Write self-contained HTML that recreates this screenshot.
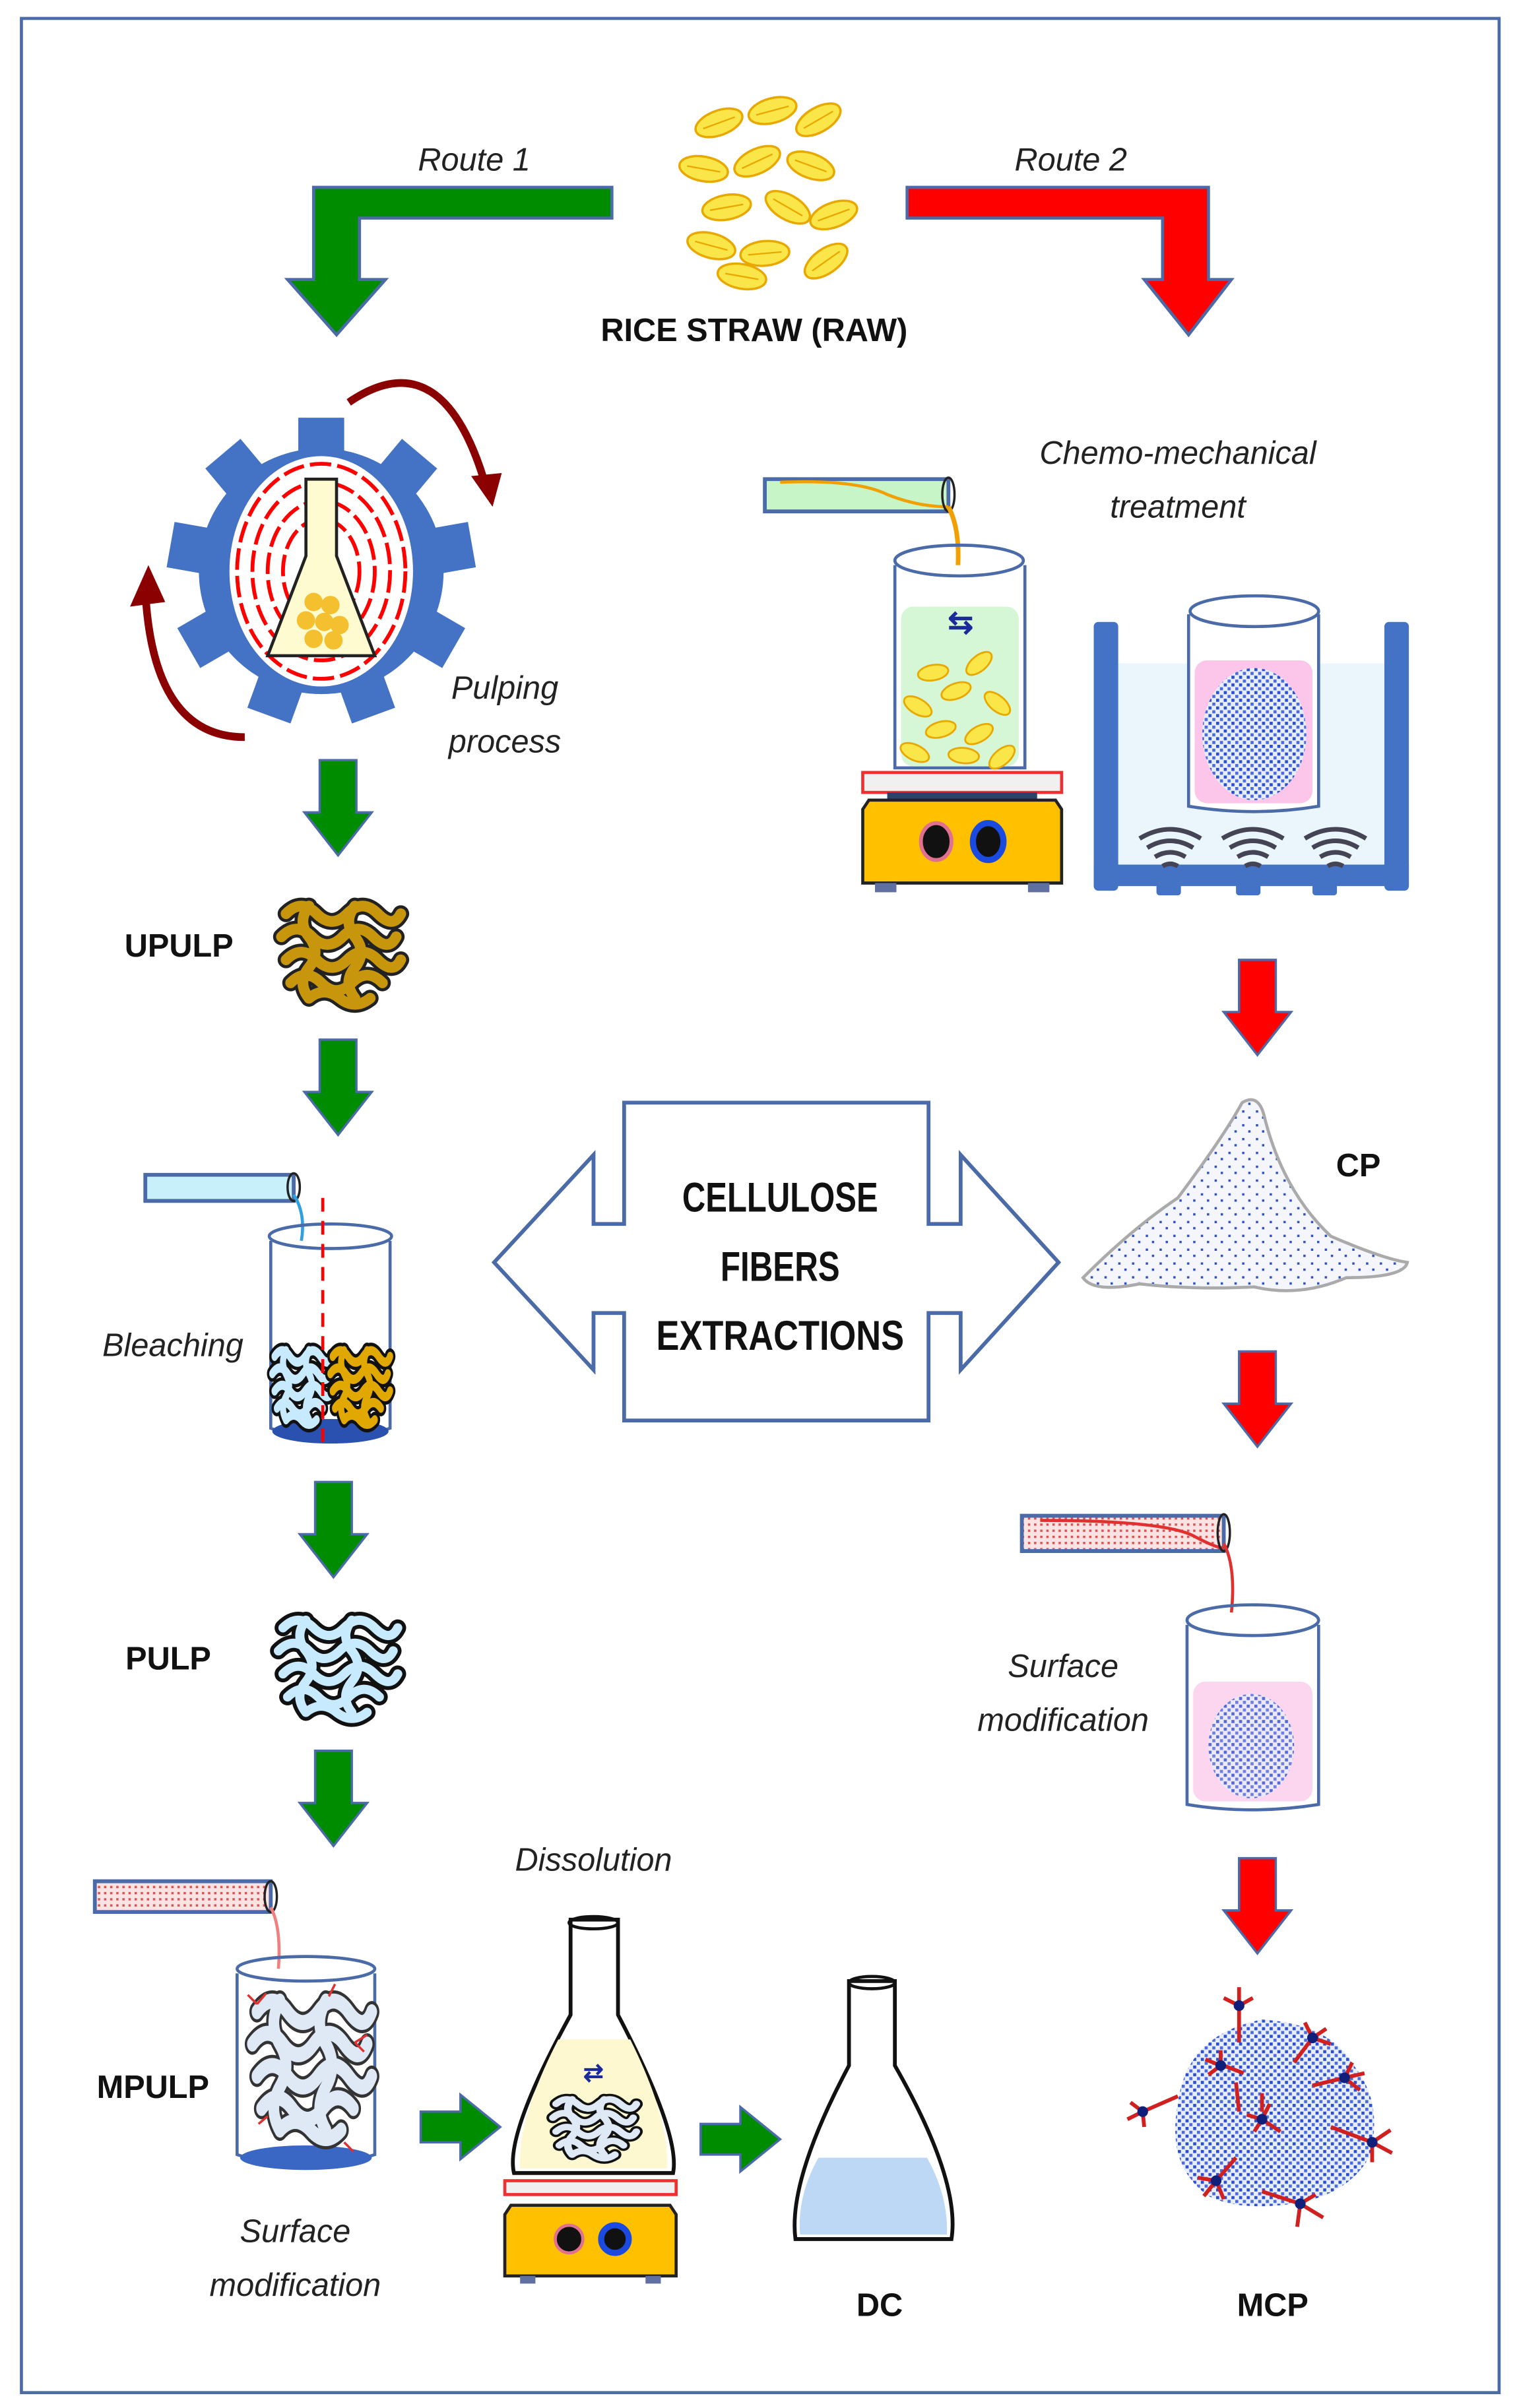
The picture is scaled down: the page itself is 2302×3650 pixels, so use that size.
<!DOCTYPE html>
<html><head><meta charset="utf-8"><style>
html,body{margin:0;padding:0;background:#fff}
svg{display:block}
text{font-family:"Liberation Sans",sans-serif}
.it{font-style:italic;font-size:21px;fill:#222}
.bd{font-weight:bold;font-size:21px;fill:#111}
</style></head><body>
<svg width="2302" height="3650" viewBox="0 0 993 1568" preserveAspectRatio="none" xmlns="http://www.w3.org/2000/svg">
<defs>
<pattern id="dots" width="5" height="5" patternUnits="userSpaceOnUse"><rect width="5" height="5" fill="#e8edfb"/><rect x="0" y="0" width="2" height="2" fill="#2a4fd0"/><rect x="2.5" y="2.5" width="2" height="2" fill="#4a6ae0"/></pattern>
<pattern id="rdots" width="4" height="4" patternUnits="userSpaceOnUse"><rect width="4" height="4" fill="#fbe3e3"/><rect width="1.5" height="1.5" fill="#e05050"/></pattern>
<pattern id="sdots" width="9" height="9" patternUnits="userSpaceOnUse"><rect width="9" height="9" fill="#f4f6fc"/><rect x="2" y="3" width="1.5" height="1.5" fill="#3050c0"/><rect x="6" y="7" width="1.5" height="1.5" fill="#3050c0"/></pattern>
<g id="grain"><ellipse cx="0" cy="0" rx="16" ry="8" fill="#fbe64a" stroke="#e8a800" stroke-width="1.5"/><line x1="-11" y1="0" x2="11" y2="0" stroke="#e8a800" stroke-width="1"/></g>
<g id="sgrain"><ellipse cx="0" cy="0" rx="10" ry="5" fill="#fbe64a" stroke="#e8a800" stroke-width="1.2"/></g>
<path id="gdown" d="M-12,0 H12 V34 H22 L0,62 L-22,34 H-12 Z"/>
<path id="gright" d="M0,-10 V10 H26 V21 L52,0 L26,-21 V-10 Z"/>
<g id="clump" fill="none" stroke-linecap="round">
<path d="M-35,-25 q10,-10 20,0 t20,0 t20,0 t15,0"/><path d="M-38,-10 q10,-10 20,0 t20,0 t20,0 t15,0"/><path d="M-35,5 q10,-10 20,0 t20,0 t20,0 t15,0"/><path d="M-32,20 q10,-10 20,0 t20,0 t20,0"/><path d="M-20,30 q10,-8 20,0 t20,0"/>
<path d="M-20,-30 q-8,10 0,20 t0,20 t0,20"/><path d="M10,-30 q-8,10 0,20 t0,20 t0,20"/>
</g>
</defs>

<rect x="14" y="12" width="966" height="1546" fill="#fff" stroke="#4a6aa8" stroke-width="2"/>

<!-- Route arrows -->
<path d="M400,122 V142 H235 V182 H252 L220,218 L188,182 H205 V122 Z" fill="#008c00" stroke="#4a6aa8" stroke-width="2"/>
<path d="M593,122 H790 V182 H805 L777,218 L748,182 H760 V142 H593 Z" fill="#f00" stroke="#4a6aa8" stroke-width="2"/>
<text x="310" y="111" class="it" text-anchor="middle">Route 1</text>
<text x="700" y="111" class="it" text-anchor="middle">Route 2</text>

<!-- rice grains -->
<g transform="translate(470,80) rotate(-20)"><use href="#grain"/></g>
<g transform="translate(505,72) rotate(-15)"><use href="#grain"/></g>
<g transform="translate(535,78) rotate(-30)"><use href="#grain"/></g>
<g transform="translate(460,110) rotate(10)"><use href="#grain"/></g>
<g transform="translate(495,105) rotate(-25)"><use href="#grain"/></g>
<g transform="translate(530,108) rotate(20)"><use href="#grain"/></g>
<g transform="translate(475,135) rotate(-10)"><use href="#grain"/></g>
<g transform="translate(515,135) rotate(30)"><use href="#grain"/></g>
<g transform="translate(545,140) rotate(-20)"><use href="#grain"/></g>
<g transform="translate(465,160) rotate(15)"><use href="#grain"/></g>
<g transform="translate(500,165) rotate(-5)"><use href="#grain"/></g>
<g transform="translate(540,170) rotate(-35)"><use href="#grain"/></g>
<g transform="translate(485,180) rotate(10)"><use href="#grain"/></g>
<text x="493" y="222" class="bd" text-anchor="middle">RICE STRAW (RAW)</text>

<!-- Gear -->
<g transform="translate(210,372)">
<g fill="#4472c4">
<circle r="80"/>
<g id="tooth"><rect x="-15" y="-100" width="30" height="30"/></g>
<use href="#tooth" transform="rotate(40)"/><use href="#tooth" transform="rotate(80)"/><use href="#tooth" transform="rotate(120)"/><use href="#tooth" transform="rotate(160)"/><use href="#tooth" transform="rotate(200)"/><use href="#tooth" transform="rotate(240)"/><use href="#tooth" transform="rotate(280)"/><use href="#tooth" transform="rotate(320)"/>
</g>
<ellipse rx="60" ry="75" fill="#fff"/>
<g fill="none" stroke="#f00" stroke-width="2.5" stroke-dasharray="14 4">
<ellipse rx="55" ry="70"/><ellipse rx="45" ry="58"/><ellipse rx="35" ry="46"/><ellipse rx="25" ry="34"/>
</g>
<path d="M-10,-60 H10 V-10 L35,55 H-35 L-10,-10 Z" fill="#fffbd0" stroke="#222" stroke-width="2"/>
<g fill="#f5c030"><circle cx="-5" cy="20" r="6"/><circle cx="6" cy="22" r="6"/><circle cx="-10" cy="32" r="6"/><circle cx="2" cy="33" r="6"/><circle cx="12" cy="35" r="6"/><circle cx="-5" cy="44" r="6"/><circle cx="8" cy="45" r="6"/></g>
</g>
<path d="M228,262 Q290,220 318,318" fill="none" stroke="#8b0000" stroke-width="5"/>
<path d="M308,310 L322,330 L328,308 Z" fill="#8b0000"/>
<path d="M160,480 Q100,480 95,385" fill="none" stroke="#8b0000" stroke-width="5"/>
<path d="M85,395 L97,368 L108,392 Z" fill="#8b0000"/>
<text x="330" y="455" class="it" text-anchor="middle">Pulping</text>
<text x="330" y="490" class="it" text-anchor="middle">process</text>

<!-- left green down arrows -->
<g fill="#008c00" stroke="#4a6aa8" stroke-width="1.5">
<use href="#gdown" x="221" y="495"/>
<use href="#gdown" x="221" y="677"/>
<use href="#gdown" x="218" y="965"/>
<use href="#gdown" x="218" y="1140"/>
</g>

<!-- UPULP -->
<text x="117" y="623" class="bd" text-anchor="middle">UPULP</text>
<g transform="translate(222,620)">
<use href="#clump" stroke="#222" stroke-width="11"/>
<use href="#clump" stroke="#c8960c" stroke-width="7"/>
</g>

<!-- Bleaching -->
<path d="M95,765 H192 V782 H95 Z" fill="#c8f0fa" stroke="#4a6aa8" stroke-width="2.5"/>
<ellipse cx="192" cy="773" rx="4" ry="9" fill="none" stroke="#222" stroke-width="1.5"/>
<path d="M192,778 Q200,790 197,808" fill="none" stroke="#30a0e0" stroke-width="2"/>
<path d="M177,808 V930 Q215,945 255,930 V808" fill="#fff" stroke="#4a6aa8" stroke-width="2"/>
<ellipse cx="216" cy="805" rx="40" ry="8" fill="none" stroke="#4a6aa8" stroke-width="2"/>
<ellipse cx="216" cy="932" rx="38" ry="8" fill="#2a50b0"/>
<g transform="translate(197,902) scale(0.5,0.75)">
<use href="#clump" stroke="#111" stroke-width="14"/>
<use href="#clump" stroke="#c8eaff" stroke-width="8"/>
</g>
<g transform="translate(235,902) scale(0.5,0.75)">
<use href="#clump" stroke="#111" stroke-width="14"/>
<use href="#clump" stroke="#e0a800" stroke-width="8"/>
</g>
<line x1="211" y1="780" x2="211" y2="945" stroke="#f00" stroke-width="2" stroke-dasharray="9 6"/>
<text x="113" y="883" class="it" text-anchor="middle">Bleaching</text>

<!-- PULP -->
<text x="110" y="1087" class="bd" text-anchor="middle">PULP</text>
<g transform="translate(220,1085)">
<use href="#clump" stroke="#111" stroke-width="11"/>
<use href="#clump" stroke="#c8eaff" stroke-width="6"/>
</g>

<!-- MPULP -->
<path d="M62,1225 H177 V1245 H62 Z" fill="url(#rdots)" stroke="#4a6aa8" stroke-width="2.5"/>
<ellipse cx="177" cy="1235" rx="4" ry="10" fill="none" stroke="#222" stroke-width="1.5"/>
<path d="M177,1242 Q184,1255 182,1282" fill="none" stroke="#f08080" stroke-width="2"/>
<path d="M155,1285 V1403 Q200,1418 245,1403 V1285" fill="#fff" stroke="#4a6aa8" stroke-width="2"/>
<ellipse cx="200" cy="1282" rx="45" ry="8" fill="none" stroke="#4a6aa8" stroke-width="2"/>
<ellipse cx="200" cy="1405" rx="43" ry="8" fill="#3a66c4"/>
<g transform="translate(203,1345) scale(1,1.4)">
<use href="#clump" stroke="#333" stroke-width="10"/>
<use href="#clump" stroke="#dfe8f5" stroke-width="7"/>
</g>
<g stroke="#e03030" stroke-width="1.5"><path d="M168,1305 l-6,-6 M168,1305 l6,-7 M232,1330 l8,-5 M232,1330 l6,6 M175,1378 l-6,5 M225,1395 l6,6 M215,1300 l4,-8"/></g>
<text x="100" y="1366" class="bd" text-anchor="middle">MPULP</text>
<text x="193" y="1460" class="it" text-anchor="middle">Surface</text>
<text x="193" y="1495" class="it" text-anchor="middle">modification</text>

<!-- green right arrows -->
<g fill="#008c00" stroke="#4a6aa8" stroke-width="1.5">
<use href="#gright" x="275" y="1385"/>
<use href="#gright" x="458" y="1393"/>
</g>

<!-- Dissolution -->
<text x="388" y="1218" class="it" text-anchor="middle">Dissolution</text>
<path d="M373,1250 H404 V1312 Q445,1390 440,1415 H336 Q330,1390 373,1312 Z" fill="#fff" stroke="#111" stroke-width="2.5"/>
<ellipse cx="388" cy="1252" rx="16" ry="4" fill="none" stroke="#111" stroke-width="2"/>
<path d="M365,1328 H412 Q438,1380 436,1412 H340 Q338,1380 365,1328 Z" fill="#fdf8d0"/>
<g transform="translate(388,1385) scale(0.7,0.6)">
<use href="#clump" stroke="#111" stroke-width="12"/>
<use href="#clump" stroke="#dfe8f5" stroke-width="7"/>
</g>
<text x="388" y="1355" font-size="16" font-weight="bold" fill="#1a2a9a" text-anchor="middle">⇄</text>
<rect x="330" y="1420" width="112" height="9" fill="#f0f0f0" stroke="#f03030" stroke-width="2"/>
<path d="M334,1436 H438 L442,1442 V1482 H330 V1442 Z" fill="#ffc000" stroke="#222" stroke-width="2"/>
<rect x="340" y="1482" width="10" height="5" fill="#6070a0"/><rect x="422" y="1482" width="10" height="5" fill="#6070a0"/>
<circle cx="372" cy="1458" r="9" fill="#111" stroke="#e07090" stroke-width="2"/><circle cx="402" cy="1458" r="9" fill="#111" stroke="#1a4ae0" stroke-width="4"/>

<!-- DC -->
<path d="M555,1290 H585 V1345 Q628,1420 622,1458 H520 Q515,1420 555,1345 Z" fill="#fff" stroke="#111" stroke-width="2.5"/>
<ellipse cx="570" cy="1291" rx="15" ry="4" fill="none" stroke="#111" stroke-width="2"/>
<path d="M535,1405 H606 Q620,1430 619,1455 H523 Q521,1430 535,1405 Z" fill="#bcd8f5"/>
<text x="575" y="1508" class="bd" text-anchor="middle">DC</text>

<!-- Chemo-mechanical -->
<text x="770" y="302" class="it" text-anchor="middle">Chemo-mechanical</text>
<text x="770" y="337" class="it" text-anchor="middle">treatment</text>
<path d="M500,312 H620 V333 H500 Z" fill="#c8f5c8" stroke="#4a6aa8" stroke-width="2.5"/>
<path d="M510,314 Q560,312 580,322 Q600,330 620,330" fill="none" stroke="#f0a000" stroke-width="2"/>
<ellipse cx="620" cy="322" rx="4" ry="11" fill="none" stroke="#222" stroke-width="1.5"/>
<path d="M620,330 Q628,345 626,372" fill="none" stroke="#f0a000" stroke-width="3"/>
<path d="M585,368 V500 H670 V368" fill="#fff" stroke="#4a6aa8" stroke-width="2"/>
<rect x="589" y="395" width="77" height="104" rx="8" fill="#d6f7d6"/>
<ellipse cx="627" cy="365" rx="42" ry="10" fill="none" stroke="#4a6aa8" stroke-width="2"/>
<text x="628" y="412" font-size="20" font-weight="bold" fill="#1a2a9a" text-anchor="middle">⇆</text>
<g transform="translate(610,438) rotate(-10)"><use href="#sgrain"/></g>
<g transform="translate(640,432) rotate(-40)"><use href="#sgrain"/></g>
<g transform="translate(600,460) rotate(30)"><use href="#sgrain"/></g>
<g transform="translate(625,450) rotate(-20)"><use href="#sgrain"/></g>
<g transform="translate(652,458) rotate(40)"><use href="#sgrain"/></g>
<g transform="translate(615,475) rotate(-15)"><use href="#sgrain"/></g>
<g transform="translate(640,478) rotate(-30)"><use href="#sgrain"/></g>
<g transform="translate(598,490) rotate(25)"><use href="#sgrain"/></g>
<g transform="translate(630,492) rotate(5)"><use href="#sgrain"/></g>
<g transform="translate(655,493) rotate(-40)"><use href="#sgrain"/></g>
<rect x="564" y="503" width="130" height="13" fill="#f0f0f0" stroke="#f03030" stroke-width="2"/>
<rect x="580" y="516" width="98" height="5" fill="#30406a"/>
<path d="M568,521 H690 L694,527 V575 H564 V527 Z" fill="#ffc000" stroke="#222" stroke-width="2"/>
<rect x="572" y="575" width="14" height="6" fill="#6070a0"/><rect x="672" y="575" width="14" height="6" fill="#6070a0"/>
<ellipse cx="612" cy="548" rx="10" ry="12" fill="#111" stroke="#e07090" stroke-width="2.5"/>
<ellipse cx="646" cy="548" rx="10" ry="12" fill="#111" stroke="#1a4ae0" stroke-width="4"/>

<!-- ultrasonic bath -->
<rect x="722" y="432" width="190" height="138" fill="#eaf6fc"/>
<rect x="715" y="405" width="16" height="175" rx="3" fill="#4472c4"/>
<rect x="905" y="405" width="16" height="175" rx="3" fill="#4472c4"/>
<rect x="715" y="563" width="206" height="14" fill="#4472c4"/>
<g fill="#4472c4"><rect x="756" y="575" width="16" height="8" rx="2"/><rect x="808" y="575" width="16" height="8" rx="2"/><rect x="858" y="575" width="16" height="8" rx="2"/></g>
<path d="M777,400 V525 Q820,532 862,525 V400" fill="#fff" stroke="#4a6aa8" stroke-width="2"/>
<rect x="781" y="430" width="77" height="93" rx="8" fill="#fcc6ea"/>
<ellipse cx="820" cy="478" rx="34" ry="43" fill="url(#dots)"/>
<ellipse cx="820" cy="398" rx="42" ry="10" fill="none" stroke="#4a6aa8" stroke-width="2"/>
<g fill="none" stroke="#445" stroke-width="3">
<g id="wv"><path d="M745,546 q20,-12 40,0"/><path d="M750,552 q15,-9 30,0"/><path d="M755,558 q10,-6 20,0"/><path d="M760,564 q5,-3 10,0"/></g>
<use href="#wv" x="54"/><use href="#wv" x="108"/>
</g>

<!-- red down arrows -->
<g fill="#f00" stroke="#4a6aa8" stroke-width="1.5">
<use href="#gdown" x="822" y="625"/>
<use href="#gdown" x="822" y="880"/>
<use href="#gdown" x="822" y="1210"/>
</g>

<!-- CP -->
<path d="M708,832 Q740,800 770,780 Q800,740 812,718 Q822,712 826,725 Q838,775 870,805 Q905,820 920,822 Q918,832 880,832 Q850,845 820,838 Q780,840 745,836 Q715,842 708,832 Z" fill="url(#sdots)" stroke="#aaa" stroke-width="2"/>
<text x="888" y="766" class="bd" text-anchor="middle">CP</text>

<!-- center double arrow -->
<path d="M408,718 H607 V797 H628 V752 L692,822 L628,892 V855 H607 V925 H408 V855 H388 V892 L323,822 L388,752 V797 H408 Z" fill="#fff" stroke="#4a6aa8" stroke-width="2.5"/>
<text x="510" y="789" font-size="27" font-weight="bold" fill="#111" text-anchor="middle" textLength="128" lengthAdjust="spacingAndGlyphs">CELLULOSE</text>
<text x="510" y="834" font-size="27" font-weight="bold" fill="#111" text-anchor="middle" textLength="78" lengthAdjust="spacingAndGlyphs">FIBERS</text>
<text x="510" y="879" font-size="27" font-weight="bold" fill="#111" text-anchor="middle" textLength="162" lengthAdjust="spacingAndGlyphs">EXTRACTIONS</text>

<!-- right surface modification -->
<path d="M668,987 H800 V1010 H668 Z" fill="url(#rdots)" stroke="#4a6aa8" stroke-width="2.5"/>
<path d="M680,990 Q760,990 780,1000 Q795,1008 800,1008" fill="none" stroke="#e03030" stroke-width="2"/>
<ellipse cx="800" cy="998" rx="4" ry="12" fill="none" stroke="#222" stroke-width="1.5"/>
<path d="M800,1005 Q808,1020 805,1050" fill="none" stroke="#e03030" stroke-width="2"/>
<path d="M776,1058 V1175 Q818,1182 862,1175 V1058" fill="#fff" stroke="#4a6aa8" stroke-width="2"/>
<rect x="780" y="1095" width="78" height="78" rx="8" fill="#fcd6ee"/>
<ellipse cx="818" cy="1137" rx="28" ry="34" fill="url(#dots)" opacity="0.8"/>
<ellipse cx="819" cy="1055" rx="43" ry="10" fill="none" stroke="#4a6aa8" stroke-width="2"/>
<text x="695" y="1092" class="it" text-anchor="middle">Surface</text>
<text x="695" y="1127" class="it" text-anchor="middle">modification</text>

<!-- MCP -->
<path d="M770,1370 Q775,1325 825,1315 Q870,1318 885,1345 Q905,1370 895,1405 Q880,1430 845,1435 Q810,1440 790,1430 Q762,1410 770,1370 Z" fill="url(#dots)"/>
<g stroke="#d02020" stroke-width="2.5">
<path d="M800,1345 L813,1350 M798,1345 v-10 M798,1345 l-8,6 M798,1345 l-10,-4 M810,1375 L808,1356"/>
<path d="M770,1365 L747,1375 M747,1375 l-8,-6 M747,1375 l-10,5 M747,1375 l1,10"/>
<path d="M810,1330 L810,1306 M810,1306 l-10,-5 M810,1306 l9,-5 M810,1306 v-12"/>
<path d="M846,1343 L858,1327 M858,1327 l-5,-10 M858,1327 l9,-6 M858,1327 l12,4"/>
<path d="M858,1358 L879,1353 M879,1353 l5,-10 M879,1353 l13,-3 M879,1353 l10,8"/>
<path d="M870,1385 L897,1395 M897,1395 l12,-8 M897,1395 l13,7 M897,1395 l0,13"/>
<path d="M850,1435 L825,1427 M850,1435 l10,-6 M850,1435 l15,9 M850,1435 l-2,15"/>
<path d="M825,1380 L830,1370 M825,1375 v-12 M825,1380 l-10,-3 M825,1380 l12,8 M825,1380 l-5,8"/>
<path d="M795,1420 L808,1405 M795,1420 l-12,-2 M795,1420 l-8,10 M795,1420 l5,12"/>
</g>
<g fill="#10207a"><circle cx="798" cy="1345" r="3.5"/><circle cx="747" cy="1375" r="3.5"/><circle cx="810" cy="1306" r="3.5"/><circle cx="858" cy="1327" r="3.5"/><circle cx="879" cy="1353" r="3.5"/><circle cx="897" cy="1395" r="3.5"/><circle cx="850" cy="1435" r="3.5"/><circle cx="825" cy="1380" r="3.5"/><circle cx="795" cy="1420" r="3.5"/></g>
<text x="832" y="1508" class="bd" text-anchor="middle">MCP</text>
</svg>
</body></html>
